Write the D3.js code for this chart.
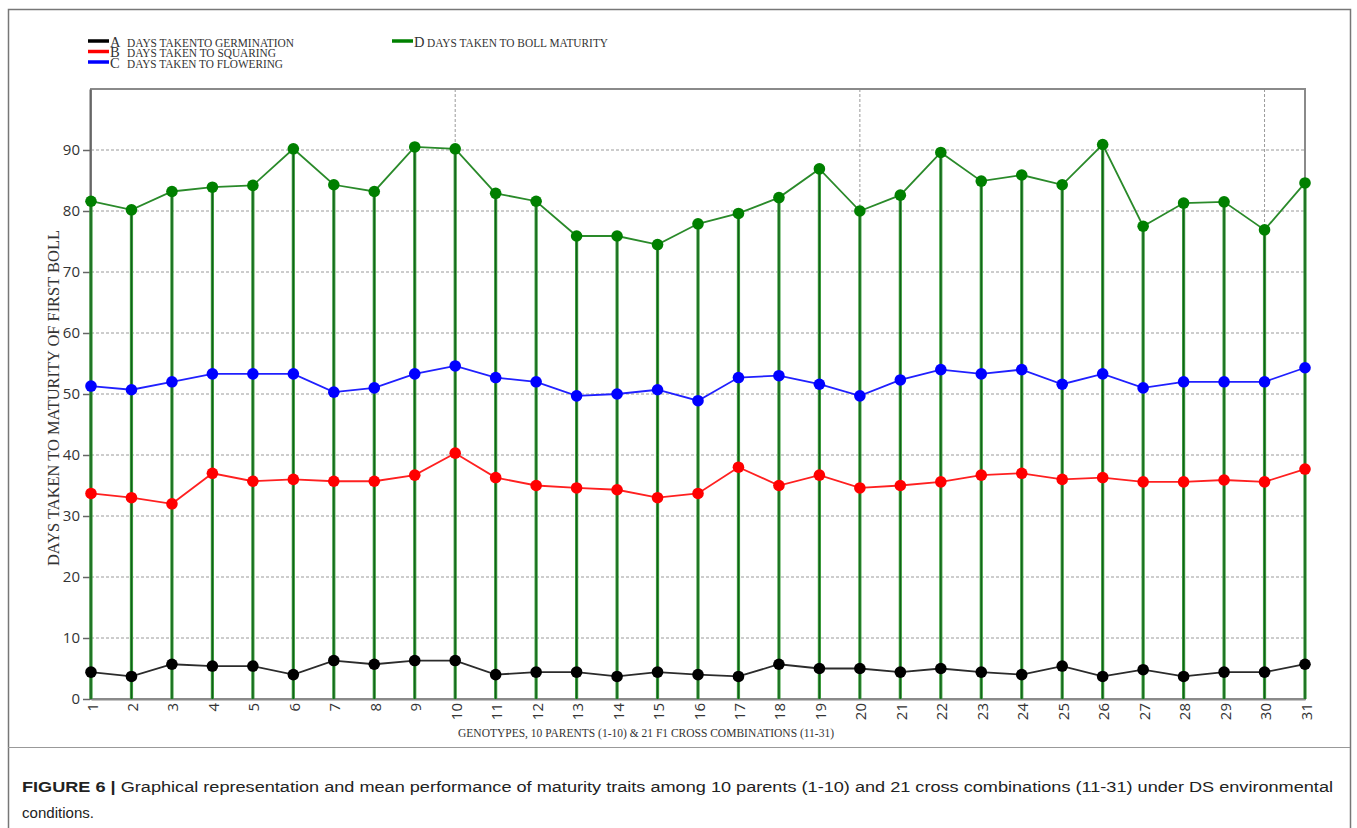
<!DOCTYPE html>
<html>
<head>
<meta charset="utf-8">
<script src="https://cdn.jsdelivr.net/npm/d3@7"></script>
<style>
  html, body { margin: 0; padding: 0; background: #fff; }
  svg { display: block; }
</style>
</head>
<body>
<svg id="chart" width="1357" height="828"></svg>
<script>
// Genotypes: 10 parents (1-10) and 21 F1 crosses (11-31)
const genotypes = d3.range(1, 32);

const germination = [4.4, 3.7, 5.7, 5.4, 5.4, 4.0, 6.3, 5.7, 6.3, 6.3, 4.0, 4.4, 4.4, 3.7, 4.4, 4.0,
  3.7, 5.7, 5.0, 5.0, 4.4, 5.0, 4.4, 4.0, 5.4, 3.7, 4.8, 3.7, 4.4, 4.4, 5.7];
const squaring = [33.7, 33.0, 32.0, 37.0, 35.7, 36.0, 35.7, 35.7, 36.7, 40.3, 36.3, 35.0, 34.6, 34.3, 33.0, 33.7,
  38.0, 35.0, 36.7, 34.6, 35.0, 35.6, 36.7, 37.0, 36.0, 36.3, 35.6, 35.6, 35.9, 35.6, 37.7];
const flowering = [51.3, 50.7, 52.0, 53.3, 53.3, 53.3, 50.3, 51.0, 53.3, 54.6, 52.7, 52.0, 49.7, 50.0, 50.7, 48.9,
  52.7, 53.0, 51.6, 49.7, 52.3, 54.0, 53.3, 54.0, 51.6, 53.3, 51.0, 52.0, 52.0, 52.0, 54.3];
const bollMaturity = [81.6, 80.2, 83.2, 83.9, 84.2, 90.2, 84.3, 83.2, 90.5, 90.2, 82.9, 81.6, 75.9, 75.9, 74.5, 77.9,
  79.6, 82.2, 86.9, 80.0, 82.6, 89.6, 84.9, 85.9, 84.3, 90.9, 77.5, 81.3, 81.5, 76.9, 84.6];

const yTicks = [0, 10, 20, 30, 40, 50, 60, 70, 80, 90];
const xGridAt = [10, 20, 30];

const seriesList = [
  { key: "A", label: "DAYS TAKENTO GERMINATION", values: germination, color: "#000000", line: "#2b2b2b" },
  { key: "B", label: "DAYS TAKEN TO SQUARING", values: squaring, color: "#ff0000", line: "#ff2020" },
  { key: "C", label: "DAYS TAKEN TO FLOWERING", values: flowering, color: "#0000ff", line: "#2020ff" },
  { key: "D", label: "DAYS TAKEN TO BOLL MATURITY", values: bollMaturity, color: "#008000", line: "#2a8a2a" }
];

const svg = d3.select("#chart");
const plot = { left: 91, right: 1305, top: 89, bottom: 699 };

const x = d3.scaleLinear().domain([1, 31]).range([plot.left, plot.right]);
const y = d3.scaleLinear().domain([0, 100]).range([plot.bottom, plot.top]);

// figure frame and separator under the chart
svg.append("rect").attr("x", 8.5).attr("y", 9.5).attr("width", 1342).attr("height", 840)
  .attr("fill", "none").attr("stroke", "#777").attr("stroke-width", 1.5);
svg.append("line").attr("x1", 8).attr("x2", 1350).attr("y1", 747.5).attr("y2", 747.5)
  .attr("stroke", "#999").attr("stroke-width", 1);

// dashed gridlines
svg.append("g").selectAll("line").data(yTicks.filter(d => d > 0)).join("line")
  .attr("x1", plot.left).attr("x2", plot.right)
  .attr("y1", d => y(d)).attr("y2", d => y(d))
  .attr("stroke", "#9a9a9a").attr("stroke-width", 1).attr("stroke-dasharray", "3,2");
svg.append("g").selectAll("line").data(xGridAt).join("line")
  .attr("x1", d => x(d)).attr("x2", d => x(d))
  .attr("y1", plot.top).attr("y2", plot.bottom)
  .attr("stroke", "#9a9a9a").attr("stroke-width", 1).attr("stroke-dasharray", "3,2");

// plot box
svg.append("rect").attr("x", plot.left).attr("y", plot.top)
  .attr("width", plot.right - plot.left).attr("height", plot.bottom - plot.top)
  .attr("fill", "none").attr("stroke", "#8a8a8a").attr("stroke-width", 2);

// y axis
const yAxis = d3.axisLeft(y).tickValues(yTicks).tickSizeInner(7).tickSizeOuter(0).tickPadding(3);
const gy = svg.append("g").attr("transform", `translate(${plot.left - 1},0)`).call(yAxis);
gy.select(".domain").attr("stroke", "#666").attr("stroke-width", 2);
gy.selectAll(".tick line").attr("stroke", "#666").attr("stroke-width", 1.5);
gy.selectAll(".tick text").attr("font-family", "'Open Sans', 'DejaVu Sans', sans-serif")
  .attr("font-size", 15).attr("fill", "#333");

// x axis with vertical tick labels
const xAxis = d3.axisBottom(x).tickValues(genotypes).tickSize(0).tickPadding(0).tickFormat(d3.format("d"));
const gx = svg.append("g").attr("transform", `translate(0,${plot.bottom})`).call(xAxis);
gx.select(".domain").attr("stroke", "#8a8a8a").attr("stroke-width", 2);
gx.selectAll(".tick text")
  .attr("font-family", "'Open Sans', 'DejaVu Sans', sans-serif")
  .attr("font-size", 15).attr("fill", "#333")
  .attr("text-anchor", "end").attr("dy", null).attr("y", 0)
  .attr("transform", "translate(6,4) rotate(-90)");

// drop lines from each boll-maturity point to the baseline
const stems = svg.append("g");
stems.selectAll("line.outer").data(genotypes).join("line").attr("class", "outer")
  .attr("x1", d => x(d)).attr("x2", d => x(d))
  .attr("y1", (d, i) => y(bollMaturity[i])).attr("y2", y(0))
  .attr("stroke", "#3f9f3f").attr("stroke-width", 3.2);
stems.selectAll("line.inner").data(genotypes).join("line").attr("class", "inner")
  .attr("x1", d => x(d)).attr("x2", d => x(d))
  .attr("y1", (d, i) => y(bollMaturity[i])).attr("y2", y(0))
  .attr("stroke", "#11601a").attr("stroke-width", 1.3);

// series lines and markers
const line = d3.line().x((d, i) => x(genotypes[i])).y(d => y(d));
seriesList.forEach(s => {
  svg.append("path").datum(s.values).attr("d", line)
    .attr("fill", "none").attr("stroke", s.line).attr("stroke-width", 1.8);
  svg.append("g").selectAll("circle").data(s.values).join("circle")
    .attr("cx", (d, i) => x(genotypes[i])).attr("cy", d => y(d)).attr("r", 5.8)
    .attr("fill", s.color);
});

// legend
const legendPos = [
  { lx: 88, ly: 41, kx: 110, tx: 127, ty: 46.5, len: 167 },
  { lx: 88, ly: 51.5, kx: 110, tx: 127, ty: 57, len: 149 },
  { lx: 88, ly: 62, kx: 110, tx: 127, ty: 67.5, len: 156 },
  { lx: 392, ly: 41, kx: 414, tx: 427, ty: 46.5, len: 181 }
];
const legend = svg.append("g").attr("font-family", "'Liberation Serif', 'DejaVu Serif', serif").attr("fill", "#333");
seriesList.forEach((s, i) => {
  const p = legendPos[i];
  legend.append("line").attr("x1", p.lx).attr("x2", p.lx + 21).attr("y1", p.ly).attr("y2", p.ly)
    .attr("stroke", s.color).attr("stroke-width", 3.5);
  legend.append("text").attr("x", p.kx).attr("y", p.ty).attr("font-size", 14.5).text(s.key);
  legend.append("text").attr("x", p.tx).attr("y", p.ty).attr("font-size", 12)
    .attr("textLength", p.len).attr("lengthAdjust", "spacingAndGlyphs").text(s.label);
});

// axis titles
svg.append("text")
  .attr("transform", "translate(59,398) rotate(-90)")
  .attr("text-anchor", "middle")
  .attr("font-family", "'Liberation Serif', 'DejaVu Serif', serif")
  .attr("font-size", 17).attr("fill", "#333")
  .attr("textLength", 336).attr("lengthAdjust", "spacingAndGlyphs")
  .text("DAYS TAKEN TO MATURITY OF FIRST BOLL");

svg.append("text")
  .attr("x", 458).attr("y", 737)
  .attr("font-family", "'Liberation Serif', 'DejaVu Serif', serif")
  .attr("font-size", 11.5).attr("fill", "#333")
  .attr("textLength", 376).attr("lengthAdjust", "spacingAndGlyphs")
  .text("GENOTYPES, 10 PARENTS (1-10) &  21 F1 CROSS COMBINATIONS (11-31)");

// caption
const cap = svg.append("text").attr("x", 22).attr("y", 792)
  .attr("font-family", "'Liberation Sans', Arial, sans-serif").attr("font-size", 15.5).attr("fill", "#222")
  .attr("textLength", 1311).attr("lengthAdjust", "spacingAndGlyphs");
cap.append("tspan").attr("font-weight", "bold").text("FIGURE 6 | ");
cap.append("tspan").text("Graphical representation and mean performance of maturity traits among 10 parents (1-10) and 21 cross combinations (11-31) under DS environmental");
svg.append("text").attr("x", 22).attr("y", 818)
  .attr("font-family", "'Liberation Sans', Arial, sans-serif").attr("font-size", 15.5).attr("fill", "#222")
  .attr("textLength", 72).attr("lengthAdjust", "spacingAndGlyphs")
  .text("conditions.");
</script>
</body>
</html>
